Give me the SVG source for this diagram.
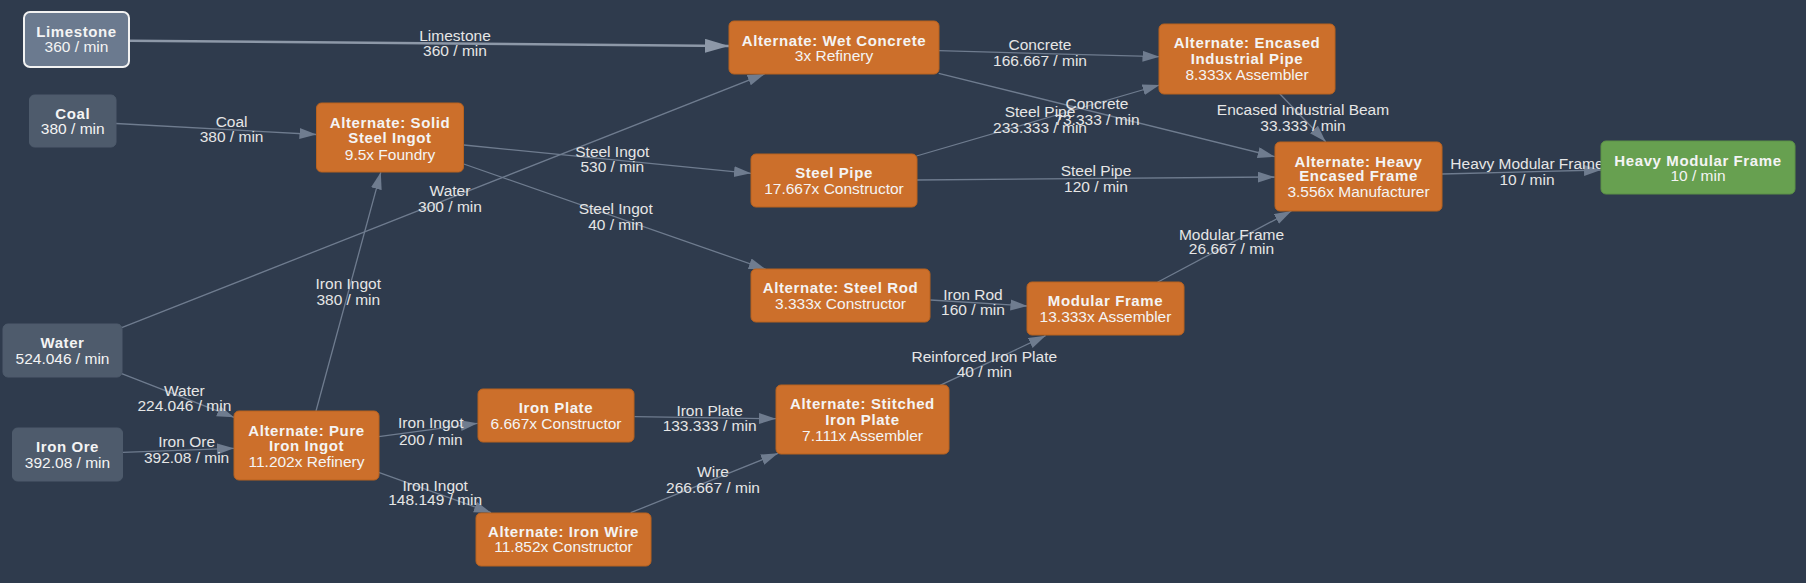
<svg xmlns="http://www.w3.org/2000/svg" width="1806" height="583" viewBox="0 0 1806 583">
<style>
.bg{fill:#2f3b4d}
.n rect{stroke-width:1}
.rec rect{fill:#cc6f2b;stroke:#b8621f}
.raw rect{fill:#4e5b6c;stroke:#4e5b6c}
.sel rect{fill:#6b7a8f;stroke:#f2f2f2;stroke-width:2}
.out rect{fill:#67a050;stroke:#5c9146}
.n text{font-family:"Liberation Sans",Arial,sans-serif;font-size:15.5px;fill:#f4f4f4;text-anchor:middle}
.n text.b{font-weight:bold;font-size:15px;letter-spacing:0.6px}
.e line{stroke:#6f7c8f;stroke-width:1.3;fill:none;marker-end:url(#ah)}
.e line.thick{stroke:#8d98a8;stroke-width:2.6;marker-end:url(#aht)}
.e text{font-family:"Liberation Sans",Arial,sans-serif;font-size:15.5px;fill:#e6e6e6;text-anchor:middle}
</style>
<defs>
<marker id="ah" markerUnits="userSpaceOnUse" markerWidth="18" markerHeight="12" refX="17" refY="5.5" orient="auto"><path d="M0,0 L17,5.5 L0,11 z" fill="#6f7c8f"/></marker>
<marker id="aht" markerUnits="userSpaceOnUse" markerWidth="25" markerHeight="15" refX="24" refY="7" orient="auto"><path d="M0,0 L24,7 L0,14 z" fill="#8d98a8"/></marker>
</defs>
<rect class="bg" x="0" y="0" width="1806" height="583"/>
<g id="edges" class="e">
<line class="thick" x1="129" y1="40.7" x2="729" y2="46"/>
<line x1="116" y1="123.5" x2="316.5" y2="134.5"/>
<line x1="121.7" y1="327.7" x2="764.6" y2="74"/>
<line x1="121.7" y1="373.7" x2="234" y2="417.3"/>
<line x1="122.3" y1="452.3" x2="234" y2="448.3"/>
<line x1="316" y1="411" x2="380.8" y2="172.3"/>
<line x1="378.6" y1="436.7" x2="477.6" y2="423.3"/>
<line x1="378.6" y1="472.3" x2="491" y2="512.7"/>
<line x1="634.5" y1="416.7" x2="776" y2="418.7"/>
<line x1="630.7" y1="512.7" x2="778" y2="453.3"/>
<line x1="940" y1="385.3" x2="1045.6" y2="335.7"/>
<line x1="930.4" y1="300" x2="1027.4" y2="306"/>
<line x1="463.8" y1="164" x2="765.8" y2="269.3"/>
<line x1="463.8" y1="145" x2="751" y2="173.3"/>
<line x1="916.5" y1="156" x2="1159.5" y2="85"/>
<line x1="938.7" y1="50.7" x2="1159.5" y2="56.7"/>
<line x1="938.7" y1="73.3" x2="1274.7" y2="156.7"/>
<line x1="916.5" y1="180" x2="1274.7" y2="177"/>
<line x1="1279.7" y1="93.7" x2="1325.7" y2="141.7"/>
<line x1="1157.5" y1="282.3" x2="1291.4" y2="211"/>
<line x1="1442" y1="174" x2="1601" y2="170"/>
<text x="455" y="41.2">Limestone</text><text x="455" y="56.2">360 / min</text>
<text x="231.6" y="126.5">Coal</text><text x="231.6" y="142.2">380 / min</text>
<text x="450" y="196.2">Water</text><text x="450" y="211.5">300 / min</text>
<text x="184.4" y="396.2">Water</text><text x="184.4" y="411.2">224.046 / min</text>
<text x="186.6" y="447.2">Iron Ore</text><text x="186.6" y="462.8">392.08 / min</text>
<text x="348.3" y="288.8">Iron Ingot</text><text x="348.3" y="304.8">380 / min</text>
<text x="430.8" y="428.2">Iron Ingot</text><text x="430.8" y="444.5">200 / min</text>
<text x="435.2" y="490.5">Iron Ingot</text><text x="435.2" y="504.8">148.149 / min</text>
<text x="709.6" y="415.5">Iron Plate</text><text x="709.6" y="430.8">133.333 / min</text>
<text x="713" y="477.2">Wire</text><text x="713" y="492.5">266.667 / min</text>
<text x="984.3" y="361.5">Reinforced Iron Plate</text><text x="984.3" y="377.2">40 / min</text>
<text x="973" y="299.8">Iron Rod</text><text x="973" y="314.8">160 / min</text>
<text x="615.7" y="213.8">Steel Ingot</text><text x="615.7" y="229.5">40 / min</text>
<text x="612.3" y="157.2">Steel Ingot</text><text x="612.3" y="172.2">530 / min</text>
<text x="1040" y="117.2">Steel Pipe</text><text x="1040" y="133.2">233.333 / min</text>
<text x="1040" y="49.8">Concrete</text><text x="1040" y="66.2">166.667 / min</text>
<text x="1097" y="108.8">Concrete</text><text x="1097" y="124.8">73.333 / min</text>
<text x="1096" y="175.8">Steel Pipe</text><text x="1096" y="192.2">120 / min</text>
<text x="1303" y="114.8">Encased Industrial Beam</text><text x="1303" y="131.2">33.333 / min</text>
<text x="1231.5" y="240">Modular Frame</text><text x="1231.5" y="254">26.667 / min</text>
<text x="1527" y="169.2">Heavy Modular Frame</text><text x="1527" y="184.8">10 / min</text>
</g>
<g id="n-limestone" class="n sel"><rect x="24" y="12" width="105" height="55" rx="6"/><text class="b" x="76.5" y="37.2">Limestone</text><text x="76.5" y="52.2">360 / min</text></g>
<g id="n-coal" class="n raw"><rect x="29.5" y="95" width="86.5" height="52" rx="5"/><text class="b" x="72.75" y="118.5">Coal</text><text x="72.75" y="133.5">380 / min</text></g>
<g id="n-water" class="n raw"><rect x="3" y="324" width="119" height="53" rx="5"/><text class="b" x="62.5" y="348.2">Water</text><text x="62.5" y="363.8">524.046 / min</text></g>
<g id="n-ironore" class="n raw"><rect x="12.5" y="428" width="110" height="53" rx="5"/><text class="b" x="67.5" y="452.2">Iron Ore</text><text x="67.5" y="467.8">392.08 / min</text></g>
<g id="n-pureiron" class="n rec"><rect x="234" y="411" width="145" height="69" rx="5"/><text class="b" x="306.5" y="435.5">Alternate: Pure</text><text class="b" x="306.5" y="451.2">Iron Ingot</text><text x="306.5" y="466.5">11.202x Refinery</text></g>
<g id="n-solidsteel" class="n rec"><rect x="316.5" y="103" width="147" height="69" rx="5"/><text class="b" x="390" y="127.5">Alternate: Solid</text><text class="b" x="390" y="143">Steel Ingot</text><text x="390" y="159.5">9.5x Foundry</text></g>
<g id="n-wetconcrete" class="n rec"><rect x="729" y="21" width="210" height="53" rx="5"/><text class="b" x="834" y="45.5">Alternate: Wet Concrete</text><text x="834" y="60.5">3x Refinery</text></g>
<g id="n-steelpipe" class="n rec"><rect x="751" y="154" width="166" height="53" rx="5"/><text class="b" x="834" y="177.8">Steel Pipe</text><text x="834" y="193.8">17.667x Constructor</text></g>
<g id="n-steelrod" class="n rec"><rect x="751" y="269" width="179" height="53" rx="5"/><text class="b" x="840.5" y="293.2">Alternate: Steel Rod</text><text x="840.5" y="308.8">3.333x Constructor</text></g>
<g id="n-ironplate" class="n rec"><rect x="478" y="389" width="156" height="53" rx="5"/><text class="b" x="556" y="412.8">Iron Plate</text><text x="556" y="428.8">6.667x Constructor</text></g>
<g id="n-ironwire" class="n rec"><rect x="476" y="513" width="175" height="53" rx="5"/><text class="b" x="563.5" y="537.2">Alternate: Iron Wire</text><text x="563.5" y="552.2">11.852x Constructor</text></g>
<g id="n-stitched" class="n rec"><rect x="776" y="385" width="173" height="69" rx="5"/><text class="b" x="862.5" y="408.8">Alternate: Stitched</text><text class="b" x="862.5" y="424.8">Iron Plate</text><text x="862.5" y="441.2">7.111x Assembler</text></g>
<g id="n-modframe" class="n rec"><rect x="1027" y="282" width="157" height="53" rx="5"/><text class="b" x="1105.5" y="305.5">Modular Frame</text><text x="1105.5" y="321.5">13.333x Assembler</text></g>
<g id="n-encasedpipe" class="n rec"><rect x="1159" y="24" width="176" height="70" rx="5"/><text class="b" x="1247" y="48.2">Alternate: Encased</text><text class="b" x="1247" y="63.8">Industrial Pipe</text><text x="1247" y="79.5">8.333x Assembler</text></g>
<g id="n-heavyencased" class="n rec"><rect x="1275" y="142" width="167" height="69" rx="5"/><text class="b" x="1358.5" y="166.5">Alternate: Heavy</text><text class="b" x="1358.5" y="181.2">Encased Frame</text><text x="1358.5" y="196.5">3.556x Manufacturer</text></g>
<g id="n-hmf" class="n out"><rect x="1601" y="141" width="194" height="53" rx="5"/><text class="b" x="1698" y="165.5">Heavy Modular Frame</text><text x="1698" y="181.2">10 / min</text></g>
</svg>
